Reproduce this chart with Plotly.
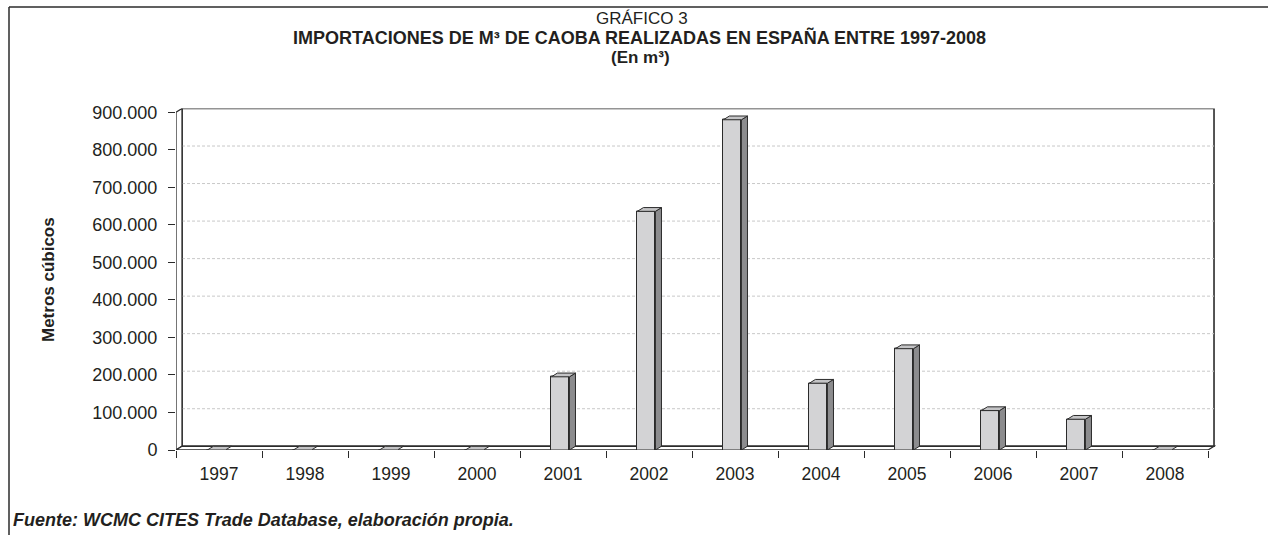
import plotly.graph_objects as go

# data
years = ["1997", "1998", "1999", "2000", "2001", "2002", "2003", "2004", "2005", "2006", "2007", "2008"]
volumes = [0, 0, 0, 0, 195000, 636000, 880000, 178000, 270000, 105000, 82000, 0]
y_ticks = [0, 100000, 200000, 300000, 400000, 500000, 600000, 700000, 800000, 900000]
y_tick_labels = ["0", "100.000", "200.000", "300.000", "400.000", "500.000",
                 "600.000", "700.000", "800.000", "900.000"]

# positions below are given in pixels of the 1268x535 target picture;
# the page is captured a little taller than the window, so the figure is laid out at 551
W, H = 1268, 535
FIG_H = 551
Y_SHIFT = 5  # captured page sits a few px lower than the figure origin
FONT = "Liberation Sans, Arial, sans-serif"
EDGE = "#2b2b2b"
FRONT = "#d3d3d5"
SIDE = "#8c8c8e"
TOP = "#c4c4c6"
GRID = "#c8c8c8"
TEXT = "#231f20"

# pseudo-3D depth, in axis units
DX = 0.07
DY = 10000
BAR_W = 0.21
BAR_OFF = -0.135

# plot box in pixels
PX_L, PX_R = 176, 1216
PX_ZERO, PX_TOP = 449, 107.5
Y_MAX = y_ticks[-1] + DY
X_MAX = len(years) - 0.5 + 8 / 86


def px(x):
    return x / W


def py(y):
    return min(1.0, 1 - (y - Y_SHIFT) / H)


idx = list(range(len(years)))
fig = go.Figure()
fig.add_trace(
    go.Bar(
        x=idx,
        y=volumes,
        width=BAR_W,
        offset=BAR_OFF,
        marker={"color": FRONT, "line": {"color": EDGE, "width": 1}},
        hovertext=years,
        showlegend=False,
    )
)

shapes = []
x_lo, x_hi = -0.5, len(years) - 0.5
top_v = y_ticks[-1]
# back wall
shapes.append(dict(type="rect", xref="x", yref="y", x0=x_lo + DX, x1=x_hi + DX, y0=DY, y1=top_v + DY,
                   fillcolor="white", line={"color": EDGE, "width": 1.6}, layer="below"))
# grid on the back wall
for v in y_ticks[1:-1]:
    shapes.append(dict(type="line", xref="x", yref="y", x0=x_lo + DX, x1=x_hi + DX, y0=v + DY, y1=v + DY,
                       line={"color": GRID, "width": 1, "dash": "3px,2px"}, layer="below"))
# left side wall
shapes.append(dict(type="path", xref="x", yref="y",
                   path=f"M {x_lo},0 L {x_lo + DX},{DY} L {x_lo + DX},{top_v + DY} L {x_lo},{top_v} Z",
                   fillcolor="white", line={"color": EDGE, "width": 1.3}, layer="below"))
# floor
shapes.append(dict(type="path", xref="x", yref="y",
                   path=f"M {x_lo},0 L {x_hi},0 L {x_hi + DX},{DY} L {x_lo + DX},{DY} Z",
                   fillcolor="white", line={"color": EDGE, "width": 1.3}, layer="below"))

# side and top faces of each column
for i, v in zip(idx, volumes):
    x0 = i + BAR_OFF
    x1 = x0 + BAR_W
    if v > 0:
        shapes.append(dict(type="path", xref="x", yref="y",
                           path=f"M {x1},0 L {x1 + DX},{DY} L {x1 + DX},{v + DY} L {x1},{v} Z",
                           fillcolor=SIDE, line={"color": EDGE, "width": 1}))
    shapes.append(dict(type="path", xref="x", yref="y",
                       path=f"M {x0},{v} L {x1},{v} L {x1 + DX},{v + DY} L {x0 + DX},{v + DY} Z",
                       fillcolor=TOP, line={"color": EDGE, "width": 1}))

# outer frame (as high as the page allows)
frame_top = 1 - 1 / FIG_H
shapes.append(dict(type="line", xref="paper", yref="paper", x0=px(9), x1=1.0, y0=frame_top, y1=frame_top,
                   line={"color": EDGE, "width": 1.5}))
shapes.append(dict(type="line", xref="paper", yref="paper", x0=px(9), x1=px(9), y0=frame_top, y1=-0.05,
                   line={"color": EDGE, "width": 1.5}))

annotations = [
    dict(text="GRÁFICO 3", x=px(642), y=py(17.5), font={"size": 17}),
    dict(text="<b>IMPORTACIONES DE M³ DE CAOBA REALIZADAS EN ESPAÑA ENTRE 1997-2008</b>",
         x=px(639), y=py(36), font={"size": 18}),
    dict(text="<b>(En m³)</b>", x=px(640), y=py(56), font={"size": 17}),
    dict(text="<b>Metros cúbicos</b>", x=px(48), y=py(279), textangle=-90, font={"size": 17}),
    dict(text="<b><i>Fuente: WCMC CITES Trade Database, elaboración propia.</i></b>",
         x=px(11), y=py(519), xanchor="left", font={"size": 18}),
]
for a in annotations:
    a.setdefault("xanchor", "center")
    a.update(xref="paper", yref="paper", yanchor="middle", showarrow=False)

fig.update_layout(
    width=W,
    height=FIG_H,
    margin={"l": 0, "r": 0, "t": 0, "b": 0},
    paper_bgcolor="white",
    plot_bgcolor="rgba(0,0,0,0)",
    font={"family": FONT, "color": TEXT, "size": 17},
    shapes=shapes,
    annotations=annotations,
    bargap=0,
    xaxis={
        "domain": [px(PX_L), px(PX_R)],
        "range": [x_lo, X_MAX],
        "tickvals": idx,
        "ticktext": years,
        "ticks": "",
        "ticklabelstandoff": 11,
        "showgrid": False,
        "zeroline": False,
        "showline": False,
        "tickfont": {"size": 17.5},
        "minor": {"tick0": x_lo, "dtick": 1, "ticks": "outside", "ticklen": 7,
                  "tickcolor": EDGE, "tickwidth": 1.3, "showgrid": False},
        "fixedrange": True,
    },
    yaxis={
        "domain": [py(PX_ZERO), py(PX_TOP)],
        "range": [0, Y_MAX],
        "tickvals": y_ticks,
        "ticktext": y_tick_labels,
        "ticks": "outside",
        "ticklen": 7,
        "tickwidth": 1.3,
        "tickcolor": EDGE,
        "ticklabelstandoff": 7,
        "showgrid": False,
        "zeroline": False,
        "showline": False,
        "tickfont": {"size": 18},
        "fixedrange": True,
    },
)

# the page body has a default 8px margin; drop it so the figure fills the window
fig.write_html("out.html", config={"displayModeBar": False},
               post_script="document.body.style.margin = '0';")
